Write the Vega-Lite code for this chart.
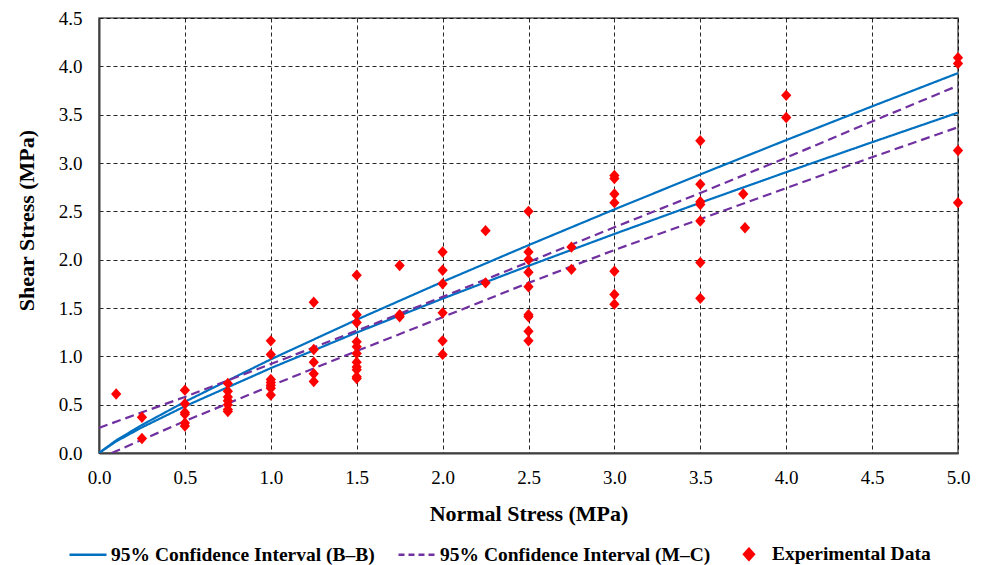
{
  "$schema": "https://vega.github.io/schema/vega-lite/v6.json",
  "width": 859,
  "height": 435,
  "autosize": {"type": "none"},
  "padding": {"left": 99, "top": 18, "right": 26, "bottom": 112},
  "background": "white",
  "config": {
    "font": "Liberation Serif",
    "view": {"stroke": "#595959", "strokeWidth": 1.5},
    "axis": {
      "grid": true,
      "gridColor": "#000000",
      "gridDash": [4, 3],
      "gridWidth": 1,
      "gridOpacity": 0.85,
      "ticks": false,
      "domainColor": "#404040",
      "domainWidth": 2,
      "labelFont": "Liberation Serif",
      "labelFontSize": 19,
      "labelFontWeight": "normal",
      "labelColor": "#000000",
      "titleFont": "Liberation Serif",
      "titleFontSize": 22,
      "titleFontWeight": "bold",
      "titleColor": "#000000"
    },
    "style": {
      "guide-label": {"font": "Liberation Serif"},
      "guide-title": {"font": "Liberation Serif"}
    }
  },
  "datasets": {
    "curves": [
      {"x": 0, "y": 0, "series": "95% Confidence Interval (B–B)", "curve": "BB upper"},
      {"x": 0.1, "y": 0.131, "series": "95% Confidence Interval (B–B)", "curve": "BB upper"},
      {"x": 0.25, "y": 0.29, "series": "95% Confidence Interval (B–B)", "curve": "BB upper"},
      {"x": 0.5, "y": 0.53, "series": "95% Confidence Interval (B–B)", "curve": "BB upper"},
      {"x": 1.0, "y": 0.969, "series": "95% Confidence Interval (B–B)", "curve": "BB upper"},
      {"x": 1.5, "y": 1.379, "series": "95% Confidence Interval (B–B)", "curve": "BB upper"},
      {"x": 2.0, "y": 1.771, "series": "95% Confidence Interval (B–B)", "curve": "BB upper"},
      {"x": 2.5, "y": 2.15, "series": "95% Confidence Interval (B–B)", "curve": "BB upper"},
      {"x": 3.0, "y": 2.52, "series": "95% Confidence Interval (B–B)", "curve": "BB upper"},
      {"x": 3.5, "y": 2.882, "series": "95% Confidence Interval (B–B)", "curve": "BB upper"},
      {"x": 4.0, "y": 3.237, "series": "95% Confidence Interval (B–B)", "curve": "BB upper"},
      {"x": 4.5, "y": 3.586, "series": "95% Confidence Interval (B–B)", "curve": "BB upper"},
      {"x": 5.0, "y": 3.93, "series": "95% Confidence Interval (B–B)", "curve": "BB upper"},
      {"x": 0, "y": 0, "series": "95% Confidence Interval (B–B)", "curve": "BB lower"},
      {"x": 0.1, "y": 0.12, "series": "95% Confidence Interval (B–B)", "curve": "BB lower"},
      {"x": 0.25, "y": 0.265, "series": "95% Confidence Interval (B–B)", "curve": "BB lower"},
      {"x": 0.5, "y": 0.483, "series": "95% Confidence Interval (B–B)", "curve": "BB lower"},
      {"x": 1.0, "y": 0.878, "series": "95% Confidence Interval (B–B)", "curve": "BB lower"},
      {"x": 1.5, "y": 1.246, "series": "95% Confidence Interval (B–B)", "curve": "BB lower"},
      {"x": 2.0, "y": 1.597, "series": "95% Confidence Interval (B–B)", "curve": "BB lower"},
      {"x": 2.5, "y": 1.936, "series": "95% Confidence Interval (B–B)", "curve": "BB lower"},
      {"x": 3.0, "y": 2.266, "series": "95% Confidence Interval (B–B)", "curve": "BB lower"},
      {"x": 3.5, "y": 2.589, "series": "95% Confidence Interval (B–B)", "curve": "BB lower"},
      {"x": 4.0, "y": 2.905, "series": "95% Confidence Interval (B–B)", "curve": "BB lower"},
      {"x": 4.5, "y": 3.215, "series": "95% Confidence Interval (B–B)", "curve": "BB lower"},
      {"x": 5.0, "y": 3.521, "series": "95% Confidence Interval (B–B)", "curve": "BB lower"},
      {"x": 0, "y": 0.26, "series": "95% Confidence Interval (M–C)", "curve": "MC upper"},
      {"x": 0.5, "y": 0.58, "series": "95% Confidence Interval (M–C)", "curve": "MC upper"},
      {"x": 1.0, "y": 0.92, "series": "95% Confidence Interval (M–C)", "curve": "MC upper"},
      {"x": 1.5, "y": 1.265, "series": "95% Confidence Interval (M–C)", "curve": "MC upper"},
      {"x": 2.0, "y": 1.615, "series": "95% Confidence Interval (M–C)", "curve": "MC upper"},
      {"x": 2.5, "y": 1.975, "series": "95% Confidence Interval (M–C)", "curve": "MC upper"},
      {"x": 3.0, "y": 2.335, "series": "95% Confidence Interval (M–C)", "curve": "MC upper"},
      {"x": 3.5, "y": 2.69, "series": "95% Confidence Interval (M–C)", "curve": "MC upper"},
      {"x": 4.0, "y": 3.055, "series": "95% Confidence Interval (M–C)", "curve": "MC upper"},
      {"x": 4.5, "y": 3.43, "series": "95% Confidence Interval (M–C)", "curve": "MC upper"},
      {"x": 5.0, "y": 3.8, "series": "95% Confidence Interval (M–C)", "curve": "MC upper"},
      {"x": 0.074, "y": 0, "series": "95% Confidence Interval (M–C)", "curve": "MC lower"},
      {"x": 0.5, "y": 0.33, "series": "95% Confidence Interval (M–C)", "curve": "MC lower"},
      {"x": 1.0, "y": 0.695, "series": "95% Confidence Interval (M–C)", "curve": "MC lower"},
      {"x": 1.5, "y": 1.055, "series": "95% Confidence Interval (M–C)", "curve": "MC lower"},
      {"x": 2.0, "y": 1.405, "series": "95% Confidence Interval (M–C)", "curve": "MC lower"},
      {"x": 2.5, "y": 1.76, "series": "95% Confidence Interval (M–C)", "curve": "MC lower"},
      {"x": 3.0, "y": 2.1, "series": "95% Confidence Interval (M–C)", "curve": "MC lower"},
      {"x": 3.5, "y": 2.42, "series": "95% Confidence Interval (M–C)", "curve": "MC lower"},
      {"x": 4.0, "y": 2.74, "series": "95% Confidence Interval (M–C)", "curve": "MC lower"},
      {"x": 4.5, "y": 3.06, "series": "95% Confidence Interval (M–C)", "curve": "MC lower"},
      {"x": 5.0, "y": 3.37, "series": "95% Confidence Interval (M–C)", "curve": "MC lower"}
    ],
    "points": [
      {"x": 0.1, "y": 0.61, "series": "Experimental Data"},
      {"x": 0.25, "y": 0.37, "series": "Experimental Data"},
      {"x": 0.25, "y": 0.15, "series": "Experimental Data"},
      {"x": 0.5, "y": 0.65, "series": "Experimental Data"},
      {"x": 0.5, "y": 0.51, "series": "Experimental Data"},
      {"x": 0.5, "y": 0.42, "series": "Experimental Data"},
      {"x": 0.5, "y": 0.4, "series": "Experimental Data"},
      {"x": 0.5, "y": 0.31, "series": "Experimental Data"},
      {"x": 0.5, "y": 0.28, "series": "Experimental Data"},
      {"x": 0.75, "y": 0.72, "series": "Experimental Data"},
      {"x": 0.75, "y": 0.64, "series": "Experimental Data"},
      {"x": 0.75, "y": 0.58, "series": "Experimental Data"},
      {"x": 0.75, "y": 0.54, "series": "Experimental Data"},
      {"x": 0.75, "y": 0.5, "series": "Experimental Data"},
      {"x": 0.75, "y": 0.45, "series": "Experimental Data"},
      {"x": 0.75, "y": 0.43, "series": "Experimental Data"},
      {"x": 1.0, "y": 1.16, "series": "Experimental Data"},
      {"x": 1.0, "y": 1.02, "series": "Experimental Data"},
      {"x": 1.0, "y": 0.76, "series": "Experimental Data"},
      {"x": 1.0, "y": 0.73, "series": "Experimental Data"},
      {"x": 1.0, "y": 0.7, "series": "Experimental Data"},
      {"x": 1.0, "y": 0.67, "series": "Experimental Data"},
      {"x": 1.0, "y": 0.6, "series": "Experimental Data"},
      {"x": 1.25, "y": 1.56, "series": "Experimental Data"},
      {"x": 1.25, "y": 1.07, "series": "Experimental Data"},
      {"x": 1.25, "y": 0.94, "series": "Experimental Data"},
      {"x": 1.25, "y": 0.82, "series": "Experimental Data"},
      {"x": 1.25, "y": 0.74, "series": "Experimental Data"},
      {"x": 1.5, "y": 1.84, "series": "Experimental Data"},
      {"x": 1.5, "y": 1.43, "series": "Experimental Data"},
      {"x": 1.5, "y": 1.35, "series": "Experimental Data"},
      {"x": 1.5, "y": 1.15, "series": "Experimental Data"},
      {"x": 1.5, "y": 1.1, "series": "Experimental Data"},
      {"x": 1.5, "y": 1.03, "series": "Experimental Data"},
      {"x": 1.5, "y": 0.94, "series": "Experimental Data"},
      {"x": 1.5, "y": 0.89, "series": "Experimental Data"},
      {"x": 1.5, "y": 0.86, "series": "Experimental Data"},
      {"x": 1.5, "y": 0.79, "series": "Experimental Data"},
      {"x": 1.5, "y": 0.77, "series": "Experimental Data"},
      {"x": 1.75, "y": 1.94, "series": "Experimental Data"},
      {"x": 1.75, "y": 1.43, "series": "Experimental Data"},
      {"x": 1.75, "y": 1.41, "series": "Experimental Data"},
      {"x": 2.0, "y": 2.08, "series": "Experimental Data"},
      {"x": 2.0, "y": 1.89, "series": "Experimental Data"},
      {"x": 2.0, "y": 1.75, "series": "Experimental Data"},
      {"x": 2.0, "y": 1.45, "series": "Experimental Data"},
      {"x": 2.0, "y": 1.16, "series": "Experimental Data"},
      {"x": 2.0, "y": 1.02, "series": "Experimental Data"},
      {"x": 2.25, "y": 2.3, "series": "Experimental Data"},
      {"x": 2.25, "y": 1.76, "series": "Experimental Data"},
      {"x": 2.5, "y": 2.5, "series": "Experimental Data"},
      {"x": 2.5, "y": 2.08, "series": "Experimental Data"},
      {"x": 2.5, "y": 2.0, "series": "Experimental Data"},
      {"x": 2.5, "y": 1.87, "series": "Experimental Data"},
      {"x": 2.5, "y": 1.72, "series": "Experimental Data"},
      {"x": 2.5, "y": 1.43, "series": "Experimental Data"},
      {"x": 2.5, "y": 1.41, "series": "Experimental Data"},
      {"x": 2.5, "y": 1.26, "series": "Experimental Data"},
      {"x": 2.5, "y": 1.16, "series": "Experimental Data"},
      {"x": 2.75, "y": 2.13, "series": "Experimental Data"},
      {"x": 2.75, "y": 1.9, "series": "Experimental Data"},
      {"x": 3.0, "y": 2.87, "series": "Experimental Data"},
      {"x": 3.0, "y": 2.84, "series": "Experimental Data"},
      {"x": 3.0, "y": 2.68, "series": "Experimental Data"},
      {"x": 3.0, "y": 2.59, "series": "Experimental Data"},
      {"x": 3.0, "y": 1.88, "series": "Experimental Data"},
      {"x": 3.0, "y": 1.64, "series": "Experimental Data"},
      {"x": 3.0, "y": 1.54, "series": "Experimental Data"},
      {"x": 3.5, "y": 3.23, "series": "Experimental Data"},
      {"x": 3.5, "y": 2.78, "series": "Experimental Data"},
      {"x": 3.5, "y": 2.6, "series": "Experimental Data"},
      {"x": 3.5, "y": 2.57, "series": "Experimental Data"},
      {"x": 3.5, "y": 2.4, "series": "Experimental Data"},
      {"x": 3.5, "y": 1.97, "series": "Experimental Data"},
      {"x": 3.5, "y": 1.6, "series": "Experimental Data"},
      {"x": 3.75, "y": 2.68, "series": "Experimental Data"},
      {"x": 3.76, "y": 2.33, "series": "Experimental Data"},
      {"x": 4.0, "y": 3.7, "series": "Experimental Data"},
      {"x": 4.0, "y": 3.47, "series": "Experimental Data"},
      {"x": 5.0, "y": 4.09, "series": "Experimental Data"},
      {"x": 5.0, "y": 4.03, "series": "Experimental Data"},
      {"x": 5.0, "y": 3.13, "series": "Experimental Data"},
      {"x": 5.0, "y": 2.59, "series": "Experimental Data"}
    ]
  },
  "encoding": {
    "x": {
      "field": "x",
      "type": "quantitative",
      "title": "Normal Stress (MPa)",
      "scale": {"domain": [0, 5], "nice": false, "zero": false},
      "axis": {"values": [0, 0.5, 1, 1.5, 2, 2.5, 3, 3.5, 4, 4.5, 5], "format": ".1f", "labelPadding": 15, "titlePadding": 16, "labelFlush": false, "labelFont": "Liberation Serif", "titleFont": "Liberation Serif"}
    },
    "y": {
      "field": "y",
      "type": "quantitative",
      "title": "Shear Stress (MPa)",
      "scale": {"domain": [0, 4.5], "nice": false, "zero": false},
      "axis": {"values": [0, 0.5, 1, 1.5, 2, 2.5, 3, 3.5, 4, 4.5], "format": ".1f", "labelPadding": 17, "titlePadding": 20, "labelFlush": false, "titleY": 202, "labelFont": "Liberation Serif", "titleFont": "Liberation Serif"}
    },
    "color": {
      "field": "series",
      "type": "nominal",
      "scale": {
        "domain": ["95% Confidence Interval (B–B)", "95% Confidence Interval (M–C)", "Experimental Data"],
        "range": ["#0070C0", "#7030A0", "#FF0000"]
      },
      "legend": {
        "orient": "none",
        "legendX": -31,
        "legendY": 516,
        "direction": "horizontal",
        "title": null,
        "labelFont": "Liberation Serif",
        "labelFontSize": 19.5,
        "labelFontWeight": "bold",
        "labelColor": "#000000",
        "labelLimit": 500,
        "labelOffset": 3,
        "columnPadding": 18,
        "symbolSize": 1369,
        "symbolStrokeWidth": 2,
        "symbolOpacity": 1,
        "encode": {
          "symbols": {
            "update": {
              "shape": {"signal": "datum.value === 'Experimental Data' ? 'M0,-1L0.9,0L0,1L-0.9,0Z' : 'stroke'"},
              "size": {"signal": "datum.value === 'Experimental Data' ? 120 : 1369"},
              "strokeDash": {"signal": "datum.value === '95% Confidence Interval (M–C)' ? [6, 4] : [1, 0]"},
              "fill": {"signal": "datum.value === 'Experimental Data' ? '#FF0000' : 'transparent'"},
              "stroke": {"signal": "datum.value === 'Experimental Data' ? 'transparent' : (datum.value === '95% Confidence Interval (M–C)' ? '#7030A0' : '#0070C0')"},
              "strokeWidth": {"value": 2.5},
              "opacity": {"value": 1}
            }
          }
        }
      }
    }
  },
  "layer": [
    {
      "data": {"name": "curves"},
      "mark": {"type": "line", "strokeWidth": 2.2, "clip": true},
      "encoding": {
        "detail": {"field": "curve", "type": "nominal"},
        "strokeDash": {
          "field": "series",
          "type": "nominal",
          "scale": {
            "domain": ["95% Confidence Interval (B–B)", "95% Confidence Interval (M–C)"],
            "range": [[1, 0], [9, 5]]
          },
          "legend": null
        }
      }
    },
    {
      "data": {"name": "points"},
      "mark": {"type": "point", "filled": true, "shape": "M0,-1L0.9,0L0,1L-0.9,0Z", "size": 130, "opacity": 1, "clip": false},
      "encoding": {}
    }
  ]
}
